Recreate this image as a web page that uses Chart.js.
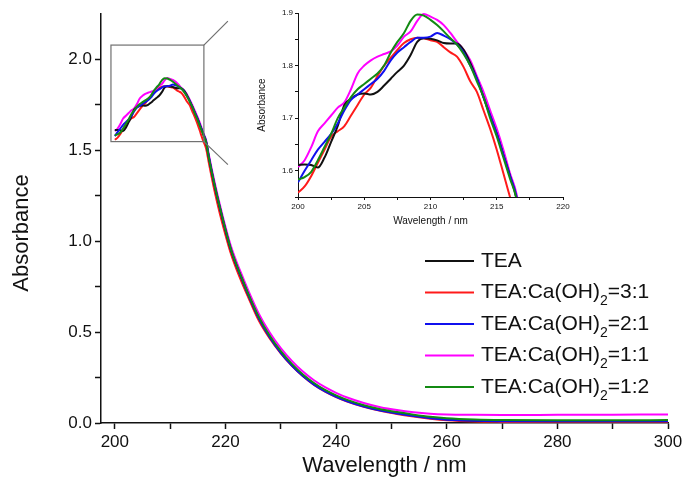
<!DOCTYPE html>
<html lang="en">
<head>
<meta charset="UTF-8" />
<title>Absorbance</title>
<script src="https://cdn.jsdelivr.net/npm/chart.js"></script>
<style>
  body { margin: 0; background: #fff; }
  .wrap { position: relative; width: 688px; height: 496px; }
  #main { position: absolute; left: 0; top: 0; }
  #inset { position: absolute; left: 245px; top: 0; }
</style>
</head>
<body>
<div class="wrap">
  <canvas id="main" width="688" height="496"></canvas>
  <canvas id="inset" width="330" height="232"></canvas>
</div>
<script>
// comprimentos de onda (nm)
const wavelengths = [
  200, 200.5, 201, 201.5, 202, 202.5, 203, 203.5, 204, 204.5, 205, 205.5, 206, 206.5, 207, 207.5,
  208, 208.5, 209, 209.5, 210, 210.5, 211, 211.5, 212, 212.5, 213, 213.5, 214, 214.5, 215, 215.5,
  216, 216.5,
  217, 218, 219, 220, 221, 222, 223, 224, 226, 228, 230, 232, 234, 236, 238, 240, 242, 245, 248,
  251, 254, 257, 260, 265, 270, 280, 290, 300
]

const tea = [
  1.611, 1.612, 1.611, 1.606, 1.625, 1.655, 1.685, 1.725, 1.737, 1.745, 1.747, 1.745, 1.75, 1.762, 1.775, 1.788,
  1.80, 1.82, 1.845, 1.852, 1.851, 1.848, 1.843, 1.842, 1.842, 1.83, 1.805, 1.775, 1.74, 1.705, 1.67, 1.63,
  1.59, 1.545,
  1.46, 1.31, 1.18, 1.06, 0.95, 0.865, 0.79, 0.715, 0.58, 0.475, 0.39, 0.32, 0.262, 0.215, 0.178, 0.148, 0.123, 0.094, 0.072,
  0.056, 0.042, 0.030, 0.021, 0.014, 0.011, 0.010, 0.010, 0.010
]

const ratio31 = [
  1.558, 1.57, 1.59, 1.615, 1.64, 1.665, 1.675, 1.685, 1.705, 1.725, 1.745, 1.758, 1.78, 1.80, 1.815, 1.83,
  1.843, 1.85, 1.853, 1.852, 1.848, 1.845, 1.835, 1.825, 1.817, 1.797, 1.77, 1.75, 1.715, 1.68, 1.64, 1.595,
  1.55, 1.51,
  1.43, 1.28, 1.15, 1.035, 0.93, 0.845, 0.77, 0.70, 0.565, 0.465, 0.383, 0.314, 0.257, 0.21, 0.173, 0.143, 0.118, 0.089, 0.067,
  0.05, 0.036, 0.024, 0.015, 0.008, 0.006, 0.005, 0.005, 0.006
]

const ratio21 = [
  1.578, 1.60, 1.62, 1.64, 1.655, 1.67, 1.69, 1.715, 1.735, 1.745, 1.755, 1.765, 1.775, 1.79, 1.81, 1.825,
  1.835, 1.845, 1.853, 1.853, 1.855, 1.862, 1.857, 1.85, 1.84, 1.825, 1.80, 1.775, 1.74, 1.705, 1.67, 1.63,
  1.59, 1.55,
  1.465, 1.315, 1.185, 1.063, 0.953, 0.866, 0.79, 0.714, 0.578, 0.472, 0.386, 0.316, 0.258, 0.211, 0.174, 0.144, 0.119, 0.09, 0.068,
  0.052, 0.038, 0.026, 0.018, 0.012, 0.010, 0.009, 0.009, 0.010
]

const ratio11 = [
  1.607, 1.62, 1.645, 1.675, 1.69, 1.705, 1.72, 1.73, 1.755, 1.785, 1.80, 1.81, 1.817, 1.822, 1.827, 1.838,
  1.855, 1.865, 1.885, 1.898, 1.893, 1.887, 1.877, 1.862, 1.845, 1.83, 1.81, 1.78, 1.75, 1.715, 1.68, 1.64,
  1.595, 1.555,
  1.475, 1.33, 1.20, 1.08, 0.972, 0.887, 0.812, 0.738, 0.603, 0.498, 0.412, 0.342, 0.283, 0.235, 0.197, 0.166, 0.14, 0.11, 0.087,
  0.071, 0.059, 0.051, 0.047, 0.045, 0.044, 0.045, 0.046, 0.047
]

const ratio12 = [
  1.583, 1.588, 1.598, 1.62, 1.645, 1.67, 1.70, 1.72, 1.74, 1.755, 1.765, 1.775, 1.785, 1.80, 1.825, 1.845,
  1.862, 1.885, 1.897, 1.895, 1.887, 1.877, 1.865, 1.852, 1.84, 1.822, 1.80, 1.77, 1.74, 1.70, 1.665, 1.625,
  1.585, 1.545,
  1.46, 1.315, 1.185, 1.065, 0.955, 0.87, 0.795, 0.72, 0.585, 0.48, 0.395, 0.325, 0.267, 0.22, 0.182, 0.152, 0.127, 0.098, 0.076,
  0.06, 0.046, 0.034, 0.026, 0.019, 0.016, 0.015, 0.015, 0.016
]

// marcas dos eixos (rotulos so nas principais)
const xTicks = [200, 210, 220, 230, 240, 250, 260, 270, 280, 290, 300]
const xTickLabels = [200, 220, 240, 260, 280, 300]
const yTicks = [0, 0.25, 0.5, 0.75, 1, 1.25, 1.5, 1.75, 2]
const yTickLabels = [0, 0.5, 1, 1.5, 2]
const insetXTicks = [200, 202.5, 205, 207.5, 210, 212.5, 215, 217.5, 220]
const insetXTickLabels = [200, 205, 210, 215, 220]
const insetYTicks = [1.55, 1.6, 1.65, 1.7, 1.75, 1.8, 1.85, 1.9]
const insetYTickLabels = [1.6, 1.7, 1.8, 1.9]

// legenda: "TEA" e depois TEA:Ca(OH)2=razao
const ratios = ['', '3:1', '2:1', '1:1', '1:2']
const cores = ['#111111', '#ff1a1a', '#1010ee', '#ff00ff', '#138a13']
const ordem = [2, 4, 1, 3, 0]
const valores = [tea, ratio31, ratio21, ratio11, ratio12]

const fonte = "Arial, 'Liberation Sans', sans-serif"

function montarDatasets(espessura) {
  return valores.map((v, i) => ({
    label: ratios[i] ? 'TEA:Ca(OH)2=' + ratios[i] : 'TEA',
    data: wavelengths.map((x, j) => ({ x: x, y: v[j] })),
    borderColor: cores[i],
    borderWidth: espessura,
    pointRadius: 0,
    cubicInterpolationMode: 'monotone',
    order: ordem[i]
  }))
}

function temValor(lista, v) {
  return lista.some((l) => Math.abs(l - v) < 1e-6)
}

// legenda desenhada a mao por causa do subscrito
const legendaPlugin = {
  id: 'legenda',
  afterDraw(chart) {
    const ctx = chart.ctx
    ctx.save()
    ctx.textBaseline = 'middle'
    ctx.textAlign = 'left'
    for (let i = 0; i < ratios.length; i++) {
      const y = 261 + i * 31.5
      ctx.strokeStyle = cores[i]
      ctx.lineWidth = 2
      ctx.beginPath()
      ctx.moveTo(425, y)
      ctx.lineTo(474, y)
      ctx.stroke()
      ctx.fillStyle = '#111'
      let x = 481
      ctx.font = '21px ' + fonte
      if (!ratios[i]) {
        ctx.fillText('TEA', x, y)
        continue
      }
      ctx.fillText('TEA:Ca(OH)', x, y)
      x += ctx.measureText('TEA:Ca(OH)').width
      ctx.font = '14px ' + fonte
      ctx.fillText('2', x, y + 9)
      x += ctx.measureText('2').width
      ctx.font = '21px ' + fonte
      ctx.fillText('=' + ratios[i], x, y)
    }
    // titulo do eixo y (um pouco abaixo do centro, como no original)
    ctx.font = '22px ' + fonte
    ctx.textAlign = 'center'
    ctx.translate(22, 233)
    ctx.rotate(-Math.PI / 2)
    ctx.fillText('Absorbance', 0, 0)
    ctx.restore()
  }
}

// caixa do zoom e linhas que ligam ao detalhe
const caixaPlugin = {
  id: 'caixa',
  afterDatasetsDraw(chart) {
    const ctx = chart.ctx
    const sx = chart.scales.x
    const sy = chart.scales.y
    const x0 = sx.getPixelForValue(199.3)
    const x1 = sx.getPixelForValue(216.1)
    const y0 = sy.getPixelForValue(2.079)
    const y1 = sy.getPixelForValue(1.548)
    ctx.save()
    ctx.strokeStyle = '#707070'
    ctx.lineWidth = 1.2
    ctx.strokeRect(x0, y0, x1 - x0, y1 - y0)
    ctx.beginPath()
    ctx.moveTo(x1, y0)
    ctx.lineTo(x1 + 24, y0 - 24)
    ctx.moveTo(x1, y1)
    ctx.lineTo(x1 + 24, y1 + 23)
    ctx.stroke()
    ctx.restore()
  }
}

new Chart(document.getElementById('main'), {
  type: 'line',
  data: { datasets: montarDatasets(2) },
  options: {
    responsive: false,
    animation: false,
    devicePixelRatio: 1,
    layout: { padding: { top: 14, right: 20, left: 0, bottom: 0 } },
    plugins: { legend: { display: false }, tooltip: { enabled: false } },
    scales: {
      x: {
        type: 'linear',
        min: 197.5,
        max: 300,
        afterFit: (s) => { s.height = 73 },
        afterBuildTicks: (s) => { s.ticks = xTicks.map((v) => ({ value: v })) },
        border: { color: '#111', width: 1.5 },
        grid: { drawOnChartArea: false, tickLength: 6, tickColor: '#111', tickWidth: 1.5 },
        ticks: {
          color: '#111',
          padding: 3,
          font: { size: 17, family: fonte },
          maxRotation: 0,
          autoSkip: false,
          callback: (v) => (temValor(xTickLabels, v) ? v : '')
        },
        title: {
          display: true,
          text: 'Wavelength / nm',
          color: '#111',
          font: { size: 22, family: fonte },
          padding: { top: 0, bottom: 17 }
        }
      },
      y: {
        min: 0,
        max: 2.25,
        afterFit: (s) => { s.width = 101 },
        afterBuildTicks: (s) => { s.ticks = yTicks.map((v) => ({ value: v })) },
        border: { color: '#111', width: 1.5 },
        grid: { drawOnChartArea: false, tickLength: 6, tickColor: '#111', tickWidth: 1.5 },
        ticks: {
          color: '#111',
          padding: 3,
          font: { size: 17, family: fonte },
          autoSkip: false,
          callback: (v) => (temValor(yTickLabels, v) ? v.toFixed(1) : '')
        }
      }
    }
  },
  plugins: [legendaPlugin, caixaPlugin]
})

// grafico de detalhe (inset)
new Chart(document.getElementById('inset'), {
  type: 'line',
  data: { datasets: montarDatasets(2) },
  options: {
    responsive: false,
    animation: false,
    devicePixelRatio: 1,
    layout: { padding: { top: 13, right: 12, left: 0, bottom: 0 } },
    plugins: { legend: { display: false }, tooltip: { enabled: false } },
    scales: {
      x: {
        type: 'linear',
        min: 200,
        max: 220,
        afterFit: (s) => { s.height = 35 },
        afterBuildTicks: (s) => { s.ticks = insetXTicks.map((v) => ({ value: v })) },
        border: { color: '#111', width: 1 },
        grid: { drawOnChartArea: false, tickLength: 3, tickColor: '#111' },
        ticks: {
          color: '#111',
          padding: 2,
          font: { size: 8, family: fonte },
          maxRotation: 0,
          autoSkip: false,
          callback: (v) => (temValor(insetXTickLabels, v) ? v : '')
        },
        title: {
          display: true,
          text: 'Wavelength / nm',
          color: '#111',
          font: { size: 10, family: fonte },
          padding: { top: 0, bottom: 5 }
        }
      },
      y: {
        min: 1.55,
        max: 1.9,
        afterFit: (s) => { s.width = 53 },
        afterBuildTicks: (s) => { s.ticks = insetYTicks.map((v) => ({ value: v })) },
        border: { color: '#111', width: 1 },
        grid: { drawOnChartArea: false, tickLength: 3, tickColor: '#111' },
        ticks: {
          color: '#111',
          padding: 2,
          font: { size: 8, family: fonte },
          autoSkip: false,
          callback: (v) => (temValor(insetYTickLabels, v) ? v.toFixed(1) : '')
        },
        title: {
          display: true,
          text: 'Absorbance',
          color: '#111',
          font: { size: 10, family: fonte },
          padding: { top: 11, bottom: 0 }
        }
      }
    }
  }
})
</script>
</body>
</html>
